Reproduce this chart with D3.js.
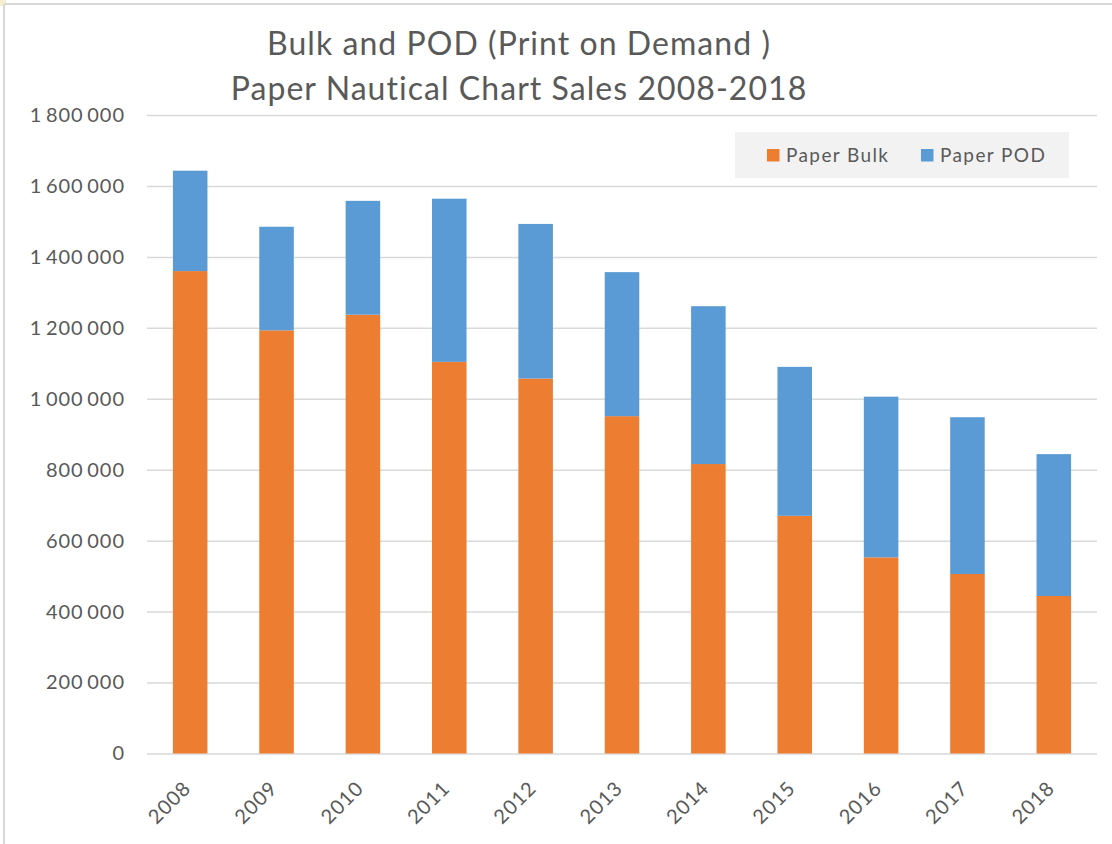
<!DOCTYPE html>
<html>
<head>
<meta charset="utf-8">
<script src="https://cdn.jsdelivr.net/npm/d3@7"></script>
<style>
  html, body { margin: 0; padding: 0; background: #fff; }
  svg { display: block; font-family: Lato, "Open Sans", sans-serif; }
</style>
</head>
<body>
<div id="chart"></div>
<script>
// values
const years = ["2008", "2009", "2010", "2011", "2012", "2013", "2014", "2015", "2016", "2017", "2018"];
const paperBulk = [1360000, 1193000, 1237000, 1104000, 1057000, 951000, 816000, 670000, 553000, 506000, 444000];
const paperPOD = [283000, 292000, 321000, 460000, 436000, 406000, 445000, 420000, 453000, 442000, 400000];
const yTicks = [0, 200000, 400000, 600000, 800000, 1000000, 1200000, 1400000, 1600000, 1800000];
const seriesNames = ["Paper Bulk", "Paper POD"];
const seriesColors = ["#ED7D31", "#5B9BD5"];
const titleLines = ["Bulk and POD (Print on Demand )", "Paper Nautical Chart Sales 2008-2018"];

const width = 1112, height = 844;
const plot = { left: 147, right: 1097, top: 115, bottom: 753.5 };
const textColor = "#595959";

const svg = d3.select("#chart").append("svg")
  .attr("width", width)
  .attr("height", height);

// chart area frame (only top and left edges show in the crop)
svg.append("rect").attr("x", 0).attr("y", 0).attr("width", 6).attr("height", 6).attr("fill", "#f7f0d0");
svg.append("line").attr("x1", 4).attr("x2", width).attr("y1", 4).attr("y2", 4)
  .attr("stroke", "#d9d9d9").attr("stroke-width", 2);
svg.append("line").attr("x1", 4).attr("x2", 4).attr("y1", 4).attr("y2", height)
  .attr("stroke", "#d9d9d9").attr("stroke-width", 2);

const x = d3.scaleBand()
  .domain(years)
  .range([plot.left, plot.right])
  .paddingInner(0.6)
  .paddingOuter(0.3);

const y = d3.scaleLinear()
  .domain([0, 1800000])
  .range([plot.bottom, plot.top]);

const fmt = v => d3.format(",")(v).replace(/,/g, "\u2009");

// gridlines + y labels
const yAxis = svg.append("g").attr("transform", `translate(${plot.left},0)`)
  .call(d3.axisLeft(y).tickValues(yTicks).tickSize(-(plot.right - plot.left)).tickPadding(22).tickFormat(fmt));
yAxis.select(".domain").remove();
yAxis.selectAll(".tick line").attr("stroke", "#d9d9d9").attr("stroke-width", 1.5);
yAxis.selectAll(".tick text")
  .attr("fill", textColor)
  .attr("font-size", "20px")
  .attr("letter-spacing", "1px")
  .attr("font-family", "Lato, sans-serif");

// stacked bars
const rows = years.map((yr, i) => ({ year: yr, "Paper Bulk": paperBulk[i], "Paper POD": paperPOD[i] }));
const stacked = d3.stack().keys(seriesNames)(rows);

svg.append("g").selectAll("g")
  .data(stacked)
  .join("g")
  .attr("fill", (d, i) => seriesColors[i])
  .selectAll("rect")
  .data(d => d)
  .join("rect")
  .attr("x", d => x(d.data.year))
  .attr("width", x.bandwidth())
  .attr("y", d => y(d[1]))
  .attr("height", d => y(d[0]) - y(d[1]));

// x axis labels, rotated
const xAxis = svg.append("g").attr("transform", `translate(0,${plot.bottom})`)
  .call(d3.axisBottom(x).tickSize(0).tickPadding(0));
xAxis.select(".domain").remove();
xAxis.selectAll(".tick text")
  .attr("fill", textColor)
  .attr("font-size", "20px")
  .attr("letter-spacing", "1px")
  .attr("font-family", "Lato, sans-serif")
  .attr("text-anchor", "end")
  .attr("dy", 0)
  .attr("y", 0)
  .attr("transform", "translate(2,36) rotate(-45)");

// title
svg.append("g").selectAll("text")
  .data(titleLines)
  .join("text")
  .attr("x", 519)
  .attr("y", (d, i) => 55 + i * 45)
  .attr("text-anchor", "middle")
  .attr("fill", textColor)
  .attr("font-size", "32px")
  .attr("letter-spacing", "1.05px")
  .text(d => d);

// legend
const legend = svg.append("g");
legend.append("rect")
  .attr("x", 735).attr("y", 132)
  .attr("width", 334).attr("height", 46)
  .attr("fill", "#f2f2f2");
const legendX = [767, 921];
const item = legend.selectAll("g.item")
  .data(seriesNames)
  .join("g")
  .attr("class", "item")
  .attr("transform", (d, i) => `translate(${legendX[i]},149)`);
item.append("rect")
  .attr("width", 12.5).attr("height", 12.5)
  .attr("fill", (d, i) => seriesColors[i]);
item.append("text")
  .attr("x", 19).attr("y", 12.5)
  .attr("fill", textColor)
  .attr("font-size", "19px")
  .attr("letter-spacing", "1.4px")
  .text(d => d);
</script>
</body>
</html>
